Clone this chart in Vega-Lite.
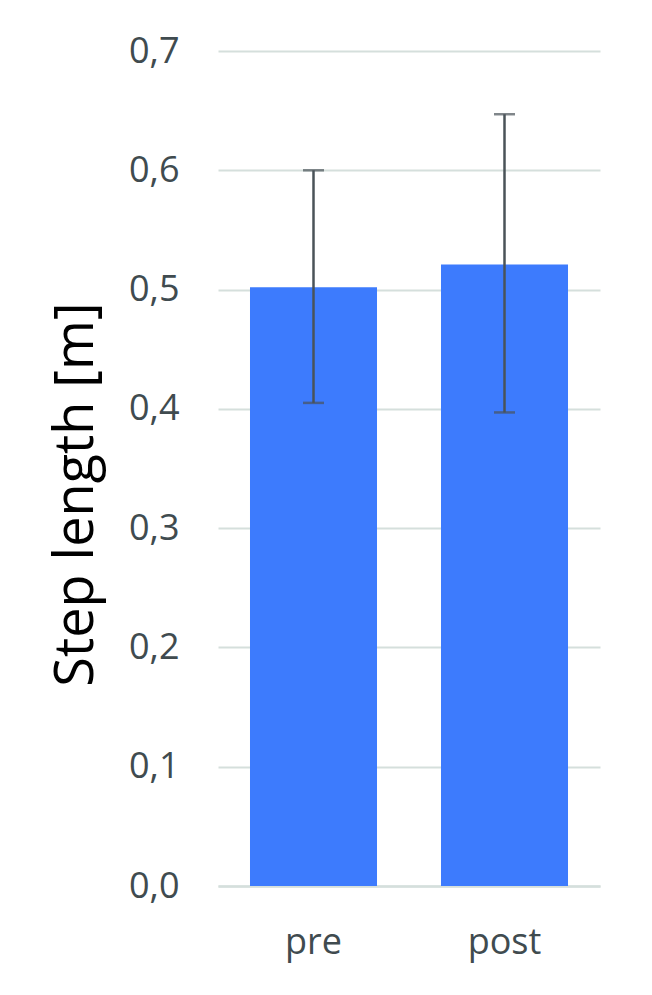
{
  "$schema": "https://vega.github.io/schema/vega-lite/v6.json",
  "width": 382,
  "height": 835,
  "autosize": {"type": "none"},
  "padding": {"left": 218, "top": 51, "right": 52, "bottom": 109},
  "background": "#ffffff",
  "view": {"stroke": null},
  "config": {
    "font": "Open Sans",
    "axis": {"labelFont": "Open Sans", "titleFont": "Open Sans"}
  },
  "data": {
    "values": [
      {"phase": "pre", "mean": 0.502, "lo": 0.405, "hi": 0.600},
      {"phase": "post", "mean": 0.521, "lo": 0.397, "hi": 0.647}
    ]
  },
  "encoding": {
    "x": {
      "field": "phase",
      "type": "nominal",
      "sort": ["pre", "post"],
      "scale": {"paddingInner": 0.335, "paddingOuter": 0.1675},
      "axis": {
        "title": null,
        "labelAngle": 0,
        "labelFontSize": 36,
        "labelColor": "#404b4f",
        "labelBaseline": "alphabetic",
        "labelPadding": 67,
        "ticks": false,
        "tickSize": 0,
        "domainColor": "#d5dfdc",
        "domainWidth": 2.5
      }
    }
  },
  "layer": [
    {
      "mark": {"type": "bar", "color": "#3d7bfd"},
      "encoding": {
        "y": {
          "field": "mean",
          "type": "quantitative",
          "scale": {"domain": [0, 0.7], "nice": false},
          "axis": {
            "title": "Step length [m]",
            "titleFontSize": 54,
            "titleFontWeight": "normal",
            "titleColor": "#000000",
            "titleAngle": -90,
            "titleAlign": "center",
            "titleBaseline": "alphabetic",
            "titleX": -126,
            "titleY": 443,
            "values": [0, 0.1, 0.2, 0.3, 0.4, 0.5, 0.6, 0.7],
            "labelExpr": "replace(format(datum.value, '.1f'), '.', ',')",
            "labelFontSize": 36,
            "labelColor": "#404b4f",
            "labelPadding": 39,
            "ticks": false,
            "tickSize": 0,
            "domain": false,
            "grid": true,
            "gridColor": "#d5dfdc",
            "gridWidth": 2
          }
        }
      }
    },
    {
      "mark": {"type": "rule", "color": "#4a5358", "strokeWidth": 2.5},
      "encoding": {
        "y": {"field": "lo", "type": "quantitative"},
        "y2": {"field": "hi"}
      }
    },
    {
      "mark": {"type": "tick", "color": "#4a5358", "size": 21, "thickness": 2.5},
      "encoding": {
        "y": {"field": "lo", "type": "quantitative"}
      }
    },
    {
      "mark": {"type": "tick", "color": "#4a5358", "size": 21, "thickness": 2.5},
      "encoding": {
        "y": {"field": "hi", "type": "quantitative"}
      }
    }
  ]
}
